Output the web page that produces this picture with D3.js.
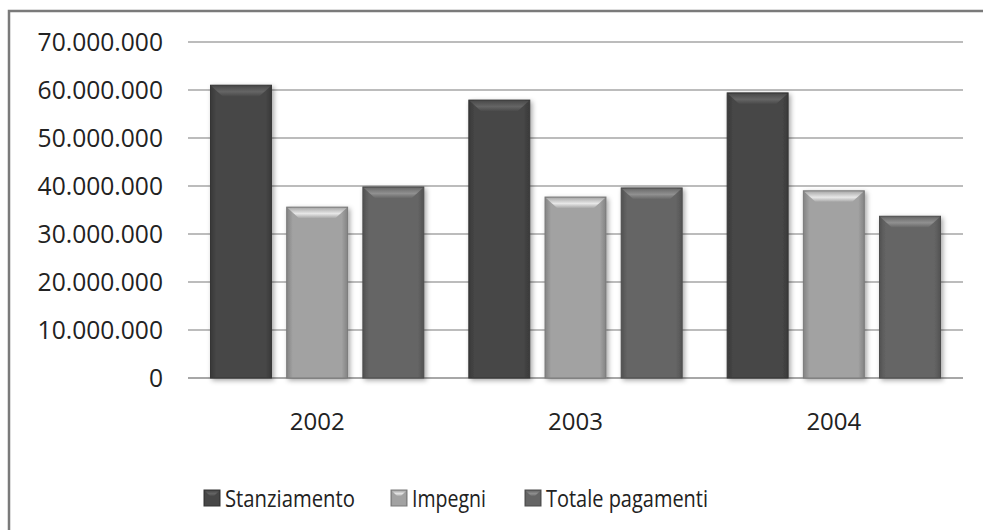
<!DOCTYPE html>
<html><head><meta charset="utf-8">
<script src="https://cdn.jsdelivr.net/npm/d3@7"></script>
<style>body{margin:0;background:#fff}svg{display:block}text{font-family:"Open Sans",sans-serif;fill:#222}</style>
</head><body><svg id="c" width="983" height="530"></svg>
<script>
const categories = ["2002","2003","2004"];
const seriesNames = ["Stanziamento","Impegni","Totale pagamenti"];
const stanziamento = [61000000, 57900000, 59400000];
const impegni = [35600000, 37700000, 39000000];
const totalePagamenti = [39800000, 39600000, 33700000];
const yTicks = [0,10000000,20000000,30000000,40000000,50000000,60000000,70000000];
const colors = ["#474747","#a2a2a2","#656565"];

const values = [stanziamento, impegni, totalePagamenti];
const svg = d3.select("#c");
const defs = svg.append("defs");
const f = defs.append("filter").attr("id","sh").attr("x","-20%").attr("y","-5%").attr("width","140%").attr("height","115%");
f.append("feDropShadow").attr("dx",2).attr("dy",2).attr("stdDeviation",2.5).attr("flood-color","#000").attr("flood-opacity",0.35);
colors.forEach((c,i)=>{
  const g = defs.append("linearGradient").attr("id","g"+i).attr("x1",0).attr("x2",1).attr("y1",0).attr("y2",0);
  const col = d3.color(c);
  g.append("stop").attr("offset","0%").attr("stop-color",col.darker(0.6));
  g.append("stop").attr("offset","10%").attr("stop-color",col);
  g.append("stop").attr("offset","90%").attr("stop-color",col);
  g.append("stop").attr("offset","100%").attr("stop-color",col.darker(0.6));
  const t = defs.append("linearGradient").attr("id","t"+i).attr("x1",0).attr("x2",0).attr("y1",0).attr("y2",1);
  t.append("stop").attr("offset","0%").attr("stop-color",col.brighter(0.2));
  t.append("stop").attr("offset","55%").attr("stop-color",col.brighter(1.0));
  t.append("stop").attr("offset","100%").attr("stop-color",col.brighter(0.1));
});

// border
svg.append("path").attr("d","M9,530 V11 H983").attr("fill","none").attr("stroke","#7a7a7a").attr("stroke-width",2.5);

const y = d3.scaleLinear().domain([0,70000000]).range([378,42]);
const x0 = d3.scaleBand().domain(categories).range([188,963]).paddingInner(0).paddingOuter(0);
const x1 = d3.scaleBand().domain(seriesNames).range([22.5, x0.bandwidth()-22.5]).paddingInner(0.2).paddingOuter(0);
const fmt = v => d3.format(",")(v).replace(/,/g,".");

// gridlines
svg.append("g").selectAll("line").data(yTicks).join("line")
  .attr("x1",188).attr("x2",963).attr("y1",d=>y(d)).attr("y2",d=>y(d))
  .attr("stroke",d=>d===0?"#8a8a8a":"#a6a6a6").attr("stroke-width",1.5);
svg.append("g").selectAll("text").data(yTicks).join("text")
  .attr("x",163).attr("y",d=>y(d)).attr("dy","0.36em").attr("text-anchor","end")
  .attr("font-size",24.6).text(fmt);

// bars
const bars = [];
categories.forEach((c,ci)=>seriesNames.forEach((s,si)=>bars.push({c,s,si,v:values[si][ci]})));
const bg = svg.append("g");
bars.forEach(b=>{
  const bx = x0(b.c)+x1(b.s), bw = x1.bandwidth(), by = y(b.v), bh = y(0)-y(b.v);
  const g = bg.append("g");
  g.append("rect").attr("x",bx).attr("y",by).attr("width",bw).attr("height",bh)
    .attr("fill","url(#g"+b.si+")").attr("stroke",d3.color(colors[b.si]).darker(0.8)).attr("stroke-width",1).attr("filter","url(#sh)");
  const bev = 11;
  g.append("path").attr("d",`M${bx+1},${by+1} H${bx+bw-1} L${bx+bw-1-bev},${by+bev} H${bx+1+bev} Z`)
    .attr("fill","url(#t"+b.si+")");
});

// category labels
svg.append("g").selectAll("text").data(categories).join("text")
  .attr("x",d=>x0(d)+x0.bandwidth()/2).attr("y",421).attr("dy","0.36em").attr("text-anchor","middle")
  .attr("font-size",24).text(d=>d);

// legend
const legX = [204, 391, 525];
const legW = [130, 74, 162];
const lg = svg.append("g");
seriesNames.forEach((s,i)=>{
  lg.append("rect").attr("x",legX[i]).attr("y",490).attr("width",16).attr("height",16)
    .attr("fill","url(#g"+i+")").attr("stroke",d3.color(colors[i]).darker(0.8));
  lg.append("path").attr("d",`M${legX[i]+1},491 H${legX[i]+15} L${legX[i]+10},496 H${legX[i]+6} Z`).attr("fill","url(#t"+i+")");
  lg.append("text").attr("x",legX[i]+21).attr("y",498).attr("dy","0.36em").attr("font-size",24)
    .attr("textLength",legW[i]).attr("lengthAdjust","spacingAndGlyphs").text(s);
});
</script></body></html>
